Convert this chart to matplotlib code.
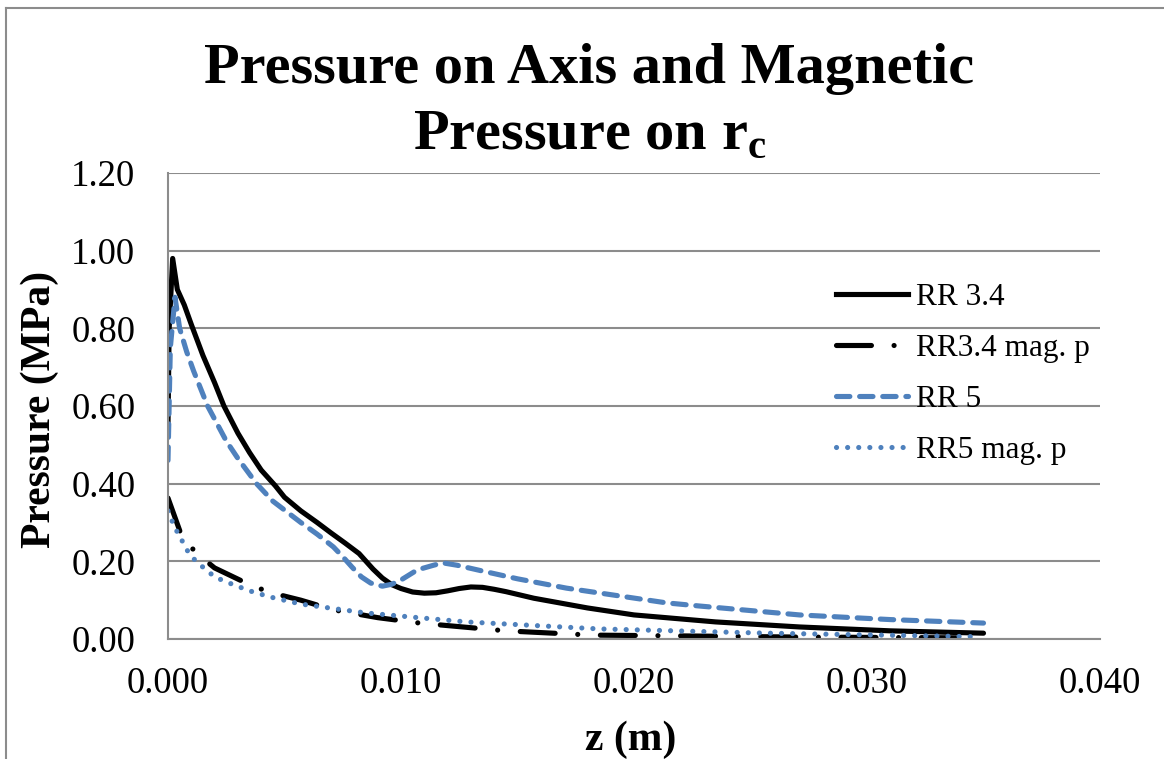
import matplotlib
matplotlib.use("Agg")
import matplotlib.pyplot as plt
from matplotlib.lines import Line2D

# ---- data ----
rr34_z = [0, 0.00005, 0.0002, 0.0004, 0.0007, 0.001, 0.0015, 0.002, 0.0024, 0.003,
          0.0035, 0.004, 0.0046, 0.005, 0.0057, 0.0064, 0.007, 0.0076, 0.0082, 0.0085,
          0.0088, 0.0092, 0.0096, 0.0100, 0.0105, 0.011, 0.0115, 0.012, 0.0125, 0.013,
          0.0135, 0.014, 0.0145, 0.0157, 0.018, 0.020, 0.0235, 0.0271, 0.031, 0.035]
rr34_p = [0.55, 0.80, 0.98, 0.90, 0.86, 0.81, 0.73, 0.66, 0.60, 0.53,
          0.48, 0.435, 0.395, 0.365, 0.33, 0.30, 0.273, 0.247, 0.22, 0.20,
          0.18, 0.157, 0.14, 0.13, 0.121, 0.118, 0.119, 0.124, 0.13, 0.134,
          0.133, 0.128, 0.122, 0.105, 0.080, 0.062, 0.044, 0.031, 0.021, 0.015]

rr34mag_z = [0, 0.0006, 0.00124, 0.002, 0.0036, 0.0045, 0.0057, 0.0071, 0.009, 0.0108,
             0.0145, 0.0182, 0.022, 0.027, 0.034]
rr34mag_p = [0.363, 0.263, 0.22, 0.183, 0.137, 0.118, 0.10, 0.075, 0.055, 0.041,
             0.021, 0.010, 0.008, 0.005, 0.003]

rr5_z = [0, 0.0001, 0.0003, 0.0005, 0.0008, 0.0011, 0.0014, 0.0017, 0.0021, 0.0025,
         0.003, 0.0038, 0.0045, 0.0057, 0.0064, 0.0071, 0.0075, 0.0079, 0.0083, 0.0087,
         0.0092, 0.0096, 0.0100, 0.0107, 0.0114, 0.0118, 0.0124, 0.0135, 0.0150, 0.0171,
         0.0214, 0.0228, 0.0271, 0.031, 0.035]
rr5_p = [0.46, 0.75, 0.88, 0.80, 0.74, 0.69, 0.645, 0.60, 0.555, 0.51,
         0.465, 0.40, 0.355, 0.30, 0.27, 0.237, 0.212, 0.185, 0.16, 0.144,
         0.136, 0.141, 0.152, 0.178, 0.19, 0.196, 0.19, 0.175, 0.155, 0.131,
         0.093, 0.085, 0.062, 0.05, 0.041]

rr5mag_z = [0, 0.0002, 0.0004, 0.00066, 0.0009, 0.00124, 0.0016, 0.002, 0.0025, 0.0035,
            0.0044, 0.0057, 0.0085, 0.0128, 0.0185, 0.0257, 0.0346]
rr5mag_p = [0.33, 0.30, 0.275, 0.247, 0.22, 0.198, 0.18, 0.16, 0.147, 0.124,
            0.108, 0.09, 0.067, 0.044, 0.026, 0.015, 0.006]

labels = ["RR 3.4", "RR3.4 mag. p", "RR 5", "RR5 mag. p"]
yticks = [0.0, 0.2, 0.4, 0.6, 0.8, 1.0, 1.2]
xticks = [0.0, 0.01, 0.02, 0.03, 0.04]

# ---- style ----
plt.rcParams['font.family'] = ['Liberation Serif', 'DejaVu Serif']
plt.rcParams['mathtext.fontset'] = 'custom'
plt.rcParams['mathtext.rm'] = 'Liberation Serif:bold'
plt.rcParams['mathtext.bf'] = 'Liberation Serif:bold'

W, H = 1164, 759
fig = plt.figure(figsize=(W / 100, H / 100), dpi=100)
ax = fig.add_axes([168 / W, 1 - 639 / H, (1100 - 168) / W, (639 - 173) / H])

blue = '#4F81BD'
grid_c = '#8C8C8C'
lw = 3.7
dash_dot = (6.8, 4.4, 0.01, 4.4)
dash = (2.6, 1.9)
dot = (0.01, 2.15)

ax.plot(rr34_z, rr34_p, color='black', lw=lw, solid_capstyle='round', solid_joinstyle='round')
ax.plot(rr34mag_z, rr34mag_p, color='black', lw=lw, dash_capstyle='round', dashes=dash_dot)
ax.plot(rr5_z, rr5_p, color=blue, lw=lw, dash_capstyle='round', dashes=dash)
ax.plot(rr5mag_z, rr5mag_p, color=blue, lw=lw, dash_capstyle='round', dashes=dot)

ax.set_xlim(0, 0.04)
ax.set_ylim(0, 1.2)
ax.set_xticks(xticks)
ax.set_yticks(yticks)
ax.set_xticklabels([f"{v:.3f}" for v in xticks])
ax.set_yticklabels([f"{v:.2f}" for v in yticks])
ax.tick_params(axis='both', length=0, labelsize=26.5)
ax.tick_params(axis='y', pad=23.5)
ax.tick_params(axis='x', pad=20)
ax.grid(axis='y', color=grid_c, lw=1.5)
ax.set_axisbelow(True)
for s in ['top', 'right']:
    ax.spines[s].set_visible(False)
for s in ['left', 'bottom']:
    ax.spines[s].set_color(grid_c)
    ax.spines[s].set_linewidth(1.5)

# title (two lines)
fig.text(589 / W, 1 - 83 / H, "Pressure on Axis and Magnetic", ha='center', va='baseline',
         fontsize=42, fontweight='bold')
fig.text(590 / W, 1 - 148 / H, r"Pressure on r$_{\mathrm{c}}$", ha='center', va='baseline',
         fontsize=42, fontweight='bold')

# axis labels
fig.text(631 / W, 1 - 750 / H, "z (m)", ha='center', va='baseline', fontsize=30, fontweight='bold')
fig.text(40 / W, 1 - 409 / H, "Pressure (MPa)", ha='center', va='center', rotation=90,
         fontsize=30, fontweight='bold')

# legend
handles = [Line2D([], [], color='black', lw=lw),
           Line2D([], [], color='black', lw=lw, dash_capstyle='round', dashes=dash_dot),
           Line2D([], [], color=blue, lw=lw, dash_capstyle='round', dashes=dash),
           Line2D([], [], color=blue, lw=lw, dash_capstyle='round', dashes=dot)]
fig.legend(handles, labels, loc='upper left', bbox_to_anchor=(836 / W, 1 - 283 / H),
           frameon=False, fontsize=22.5, handlelength=2.3, handletextpad=0.26,
           labelspacing=0.70, borderpad=0, borderaxespad=0)

# chart-area border (left and top edges visible)
fig.add_artist(Line2D([6 / W, 6 / W], [0, 1 - 8 / H], color=grid_c, lw=1.5, transform=fig.transFigure))
fig.add_artist(Line2D([6 / W, 1], [1 - 8 / H, 1 - 8 / H], color=grid_c, lw=1.5, transform=fig.transFigure))

fig.savefig("out.png", dpi=100, facecolor='white')
